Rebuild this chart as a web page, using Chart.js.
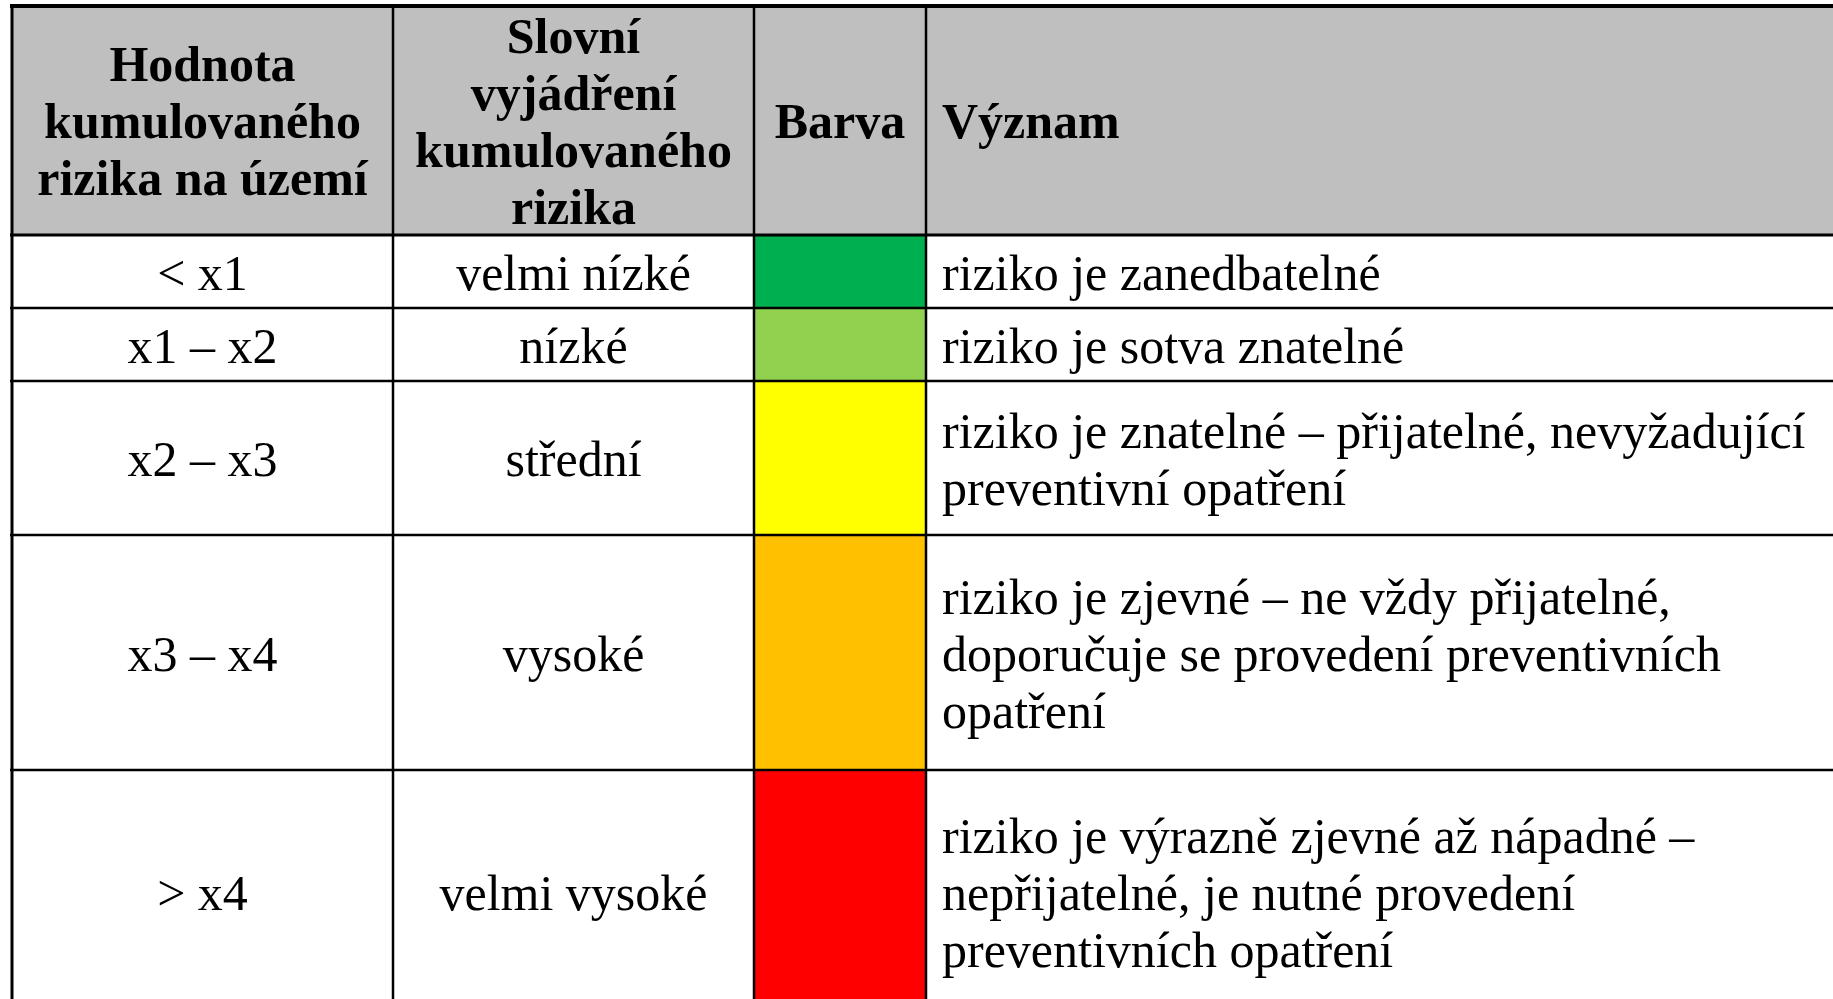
<!DOCTYPE html>
<html>
<head>
<meta charset="utf-8">
<script src="https://cdn.jsdelivr.net/npm/chart.js@4"></script>
<style>
  html, body { margin: 0; padding: 0; background: #fff; overflow: hidden; }
  #wrap { width: 1833px; height: 999px; position: relative; }
</style>
</head>
<body>
<div id="wrap"><canvas id="riskTable"></canvas></div>
<script>
// Tabulka: hodnoty kumulovaného rizika
const headers = [
    ["Hodnota", "kumulovaného", "rizika na území"],
    ["Slovní", "vyjádření", "kumulovaného", "rizika"],
    ["Barva"],
    ["Význam"]
];
const ranges = ["< x1", "x1 – x2", "x2 – x3", "x3 – x4", "> x4"];
const levels = ["velmi nízké", "nízké", "střední", "vysoké", "velmi vysoké"];
const levelColors = ["#00b050", "#92d050", "#ffff00", "#ffc000", "#ff0000"];
const meanings = [
    ["riziko je zanedbatelné"],
    ["riziko je sotva znatelné"],
    ["riziko je znatelné – přijatelné, nevyžadující", "preventivní opatření"],
    ["riziko je zjevné – ne vždy přijatelné,", "doporučuje se provedení preventivních", "opatření"],
    ["riziko je výrazně zjevné až nápadné –", "nepřijatelné, je nutné provedení", "preventivních opatření"]
];

// Rozložení tabulky (jednotky os = pixely plátna)
const colEdges = [12, 393, 754, 926, 1840];
const rowEdges = [6, 235, 308, 381, 535, 770, 1014];
const lineStep = 57;
const textPad = 16;
const fontSize = 50;
const fontFamily = '"Liberation Serif", "DejaVu Serif", serif';

// Hlavička + barevné buňky jako plovoucí pruhy
const datasets = [];
datasets.push({
    data: [{ y: (rowEdges[0] + rowEdges[1]) / 2, x: [colEdges[0], colEdges[4]] }],
    backgroundColor: "#bfbfbf",
    barThickness: rowEdges[1] - rowEdges[0],
    stack: "t"
});
levelColors.forEach((c, i) => {
    datasets.push({
        data: [{ y: (rowEdges[i + 1] + rowEdges[i + 2]) / 2, x: [colEdges[2], colEdges[3]] }],
        backgroundColor: c,
        barThickness: rowEdges[i + 2] - rowEdges[i + 1],
        stack: "t"
    });
});

// Plugin pro čáry a texty tabulky
const tablePlugin = {
    id: "tablePlugin",
    afterDatasetsDraw(chart) {
        const ctx = chart.ctx;
        const xs = chart.scales.x, ys = chart.scales.y;
        ctx.save();
        ctx.strokeStyle = "#000";
        rowEdges.forEach((r, i) => {
            const y = ys.getPixelForValue(r);
            ctx.lineWidth = i === 0 ? 4 : (i === 1 ? 3 : 2.5);
            ctx.beginPath();
            ctx.moveTo(xs.getPixelForValue(colEdges[0]) - 2, y);
            ctx.lineTo(xs.getPixelForValue(colEdges[4]), y);
            ctx.stroke();
        });
        colEdges.forEach((c, i) => {
            const x = xs.getPixelForValue(c);
            ctx.lineWidth = i === 0 ? 3 : 2.5;
            ctx.beginPath();
            ctx.moveTo(x, ys.getPixelForValue(rowEdges[0]) - 2);
            ctx.lineTo(x, ys.getPixelForValue(rowEdges[6]));
            ctx.stroke();
        });
        ctx.restore();
    },
    afterDraw(chart) {
        const ctx = chart.ctx;
        const xs = chart.scales.x, ys = chart.scales.y;
        ctx.save();
        ctx.fillStyle = "#000";
        ctx.textBaseline = "middle";

        function lines(arr, col, row, align) {
            const cy = ys.getPixelForValue((rowEdges[row] + rowEdges[row + 1]) / 2);
            let x;
            if (align === "center") {
                x = xs.getPixelForValue((colEdges[col] + colEdges[col + 1]) / 2);
            } else {
                x = xs.getPixelForValue(colEdges[col]) + textPad;
            }
            ctx.textAlign = align;
            arr.forEach((t, k) => {
                ctx.fillText(t, x, cy + 5 + (k - (arr.length - 1) / 2) * lineStep);
            });
        }

        ctx.font = "bold " + fontSize + "px " + fontFamily;
        headers.forEach((h, i) => lines(h, i, 0, i === 3 ? "left" : "center"));

        ctx.font = fontSize + "px " + fontFamily;
        ranges.forEach((t, i) => lines([t], 0, i + 1, "center"));
        levels.forEach((t, i) => lines([t], 1, i + 1, "center"));
        meanings.forEach((m, i) => lines(m, 3, i + 1, "left"));
        ctx.restore();
    }
};

new Chart(document.getElementById("riskTable"), {
    type: "bar",
    data: { datasets: datasets },
    options: {
        indexAxis: "y",
        responsive: true,
        maintainAspectRatio: false,
        animation: false,
        layout: { padding: 0 },
        plugins: { legend: { display: false }, tooltip: { enabled: false } },
        datasets: { bar: { borderWidth: 0, grouped: true, categoryPercentage: 1, barPercentage: 1 } },
        scales: {
            x: { type: "linear", min: 0, max: 1833, offset: false, display: false },
            y: { type: "linear", min: 0, max: 999, reverse: true, stacked: true, offset: false, display: false }
        }
    },
    plugins: [tablePlugin]
});
</script>
</body>
</html>
